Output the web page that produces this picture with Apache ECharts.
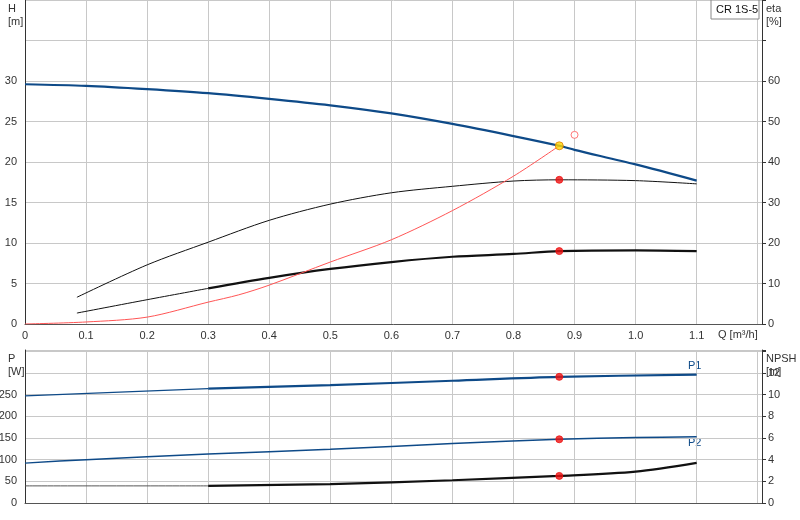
<!DOCTYPE html>
<html><head><meta charset="utf-8">
<script src="https://cdn.jsdelivr.net/npm/echarts@6/dist/echarts.min.js"></script>
<style>html,body{margin:0;padding:0;background:#fff}#c{width:800px;height:520px}</style>
</head><body><div id="c"></div>
<script>
const hQ=[0,0.1,0.2,0.3,0.4,0.5,0.6,0.7,0.8,0.875,0.9,1.0,1.1];
const hV=[29.6,29.4,29.0,28.5,27.8,27.0,26.0,24.7,23.2,22.0,21.5,19.7,17.7];
const etaQ=[0,0.1,0.2,0.3,0.35,0.4,0.5,0.6,0.7,0.8,0.875];
const etaV=[0,0.5,1.7,5.4,7.2,9.6,15.3,20.8,28,36.5,44];
const e1Q=[0.085,0.2,0.3,0.4,0.5,0.6,0.7,0.8,0.875,1.0,1.1];
const e1V=[3.3,7.3,10.1,12.8,14.8,16.2,17.0,17.65,17.8,17.7,17.3];
const e2Q=[0.085,0.2,0.3,0.4,0.5,0.6,0.7,0.8,0.875,1.0,1.1];
const e2V=[1.35,3.0,4.4,5.7,6.8,7.65,8.3,8.65,9.0,9.1,9.0];
const p1Q=[0,0.3,0.5,0.7,0.875,1.1];
const p1V=[247,264,272,282,291,296];
const p2Q=[0,0.1,0.3,0.5,0.7,0.875,1.0,1.1];
const p2V=[92,100,113,124,137,147,151,153];
const nQ=[0,0.3,0.5,0.7,0.875,1.0,1.1];
const nV=[1.58,1.58,1.75,2.1,2.5,2.9,3.7];
const dutyQ=0.875, splitQ=0.3;
const pair=(q,v)=>q.map((x,i)=>[x,v[i]]);
const part=(q,v,lo)=>pair(q,v).filter(p=>lo?p[0]<=splitQ:p[0]>=splitQ);
const blue='#0e4a88', grid='#c8c8c8', font='Liberation Sans, Arial, sans-serif';
const xa=(gi,show)=>({type:'value',gridIndex:gi,min:0,max:1.207,interval:0.1,
  axisLine:{show:true,lineStyle:{color:'#555'}},axisTick:{show:false},
  splitLine:{show:true,lineStyle:{color:grid}},
  axisLabel:{show:show,color:'#333',fontSize:11,fontFamily:font,margin:6,
    formatter:v=>v>1.15?'':(v===0?'0':v.toFixed(1))}});
const ya=(gi,pos,max,intv,lim,split)=>({type:'value',gridIndex:gi,position:pos,min:0,max:max,interval:intv,
  axisLine:{show:true,lineStyle:{color:'#333'}},axisTick:{show:pos==='right',length:4,lineStyle:{color:'#333'}},
  splitLine:{show:split,lineStyle:{color:grid}},
  axisLabel:{color:'#333',fontSize:11,fontFamily:font,margin:pos==='right'?6:8,formatter:v=>v>lim+0.01?'':String(Math.round(v))}});
const ln=(name,data,xi,yi,color,w,z)=>({name,type:'line',xAxisIndex:xi,yAxisIndex:yi,data,smooth:0.3,symbol:'none',
  lineStyle:{color,width:w},z:z||2,silent:true});
const dot=(data,xi,yi,color,border,size,z)=>({type:'scatter',xAxisIndex:xi,yAxisIndex:yi,data,symbolSize:size||7,
  itemStyle:{color,borderColor:border||color,borderWidth:1},z:z||5,silent:true});
const at=(q,v,x)=>v[q.indexOf(x)];
const g={left:25,right:38,containLabel:false,outerBoundsMode:'none'};
const option={animation:false,
 grid:[Object.assign({top:0,bottom:196},g),Object.assign({top:350,bottom:17},g)],
 xAxis:[xa(0,true),xa(1,false)],
 yAxis:[ya(0,'left',40,5,30,true),ya(0,'right',80,10,60,false),ya(1,'left',353,50,250,true),ya(1,'right',14.12,2,12,false)],
 series:[
  ln('eta',pair(etaQ,etaV),0,1,'#ff5555',1,3),
  ln('e1',pair(e1Q,e1V),0,0,'#111',1),
  ln('e2a',part(e2Q,e2V,true),0,0,'#111',1),
  ln('e2b',part(e2Q,e2V,false),0,0,'#111',2.2),
  ln('H',pair(hQ,hV),0,0,blue,2.2,4),
  ln('P1a',part(p1Q,p1V,true),1,2,blue,1.2),
  ln('P1b',part(p1Q,p1V,false),1,2,blue,2.2),
  ln('P2',pair(p2Q,p2V),1,2,blue,1.5),
  ln('Na',part(nQ,nV,true),1,3,'#555',1),
  ln('Nb',part(nQ,nV,false),1,3,'#111',2.2),
  dot([[dutyQ,at(e1Q,e1V,dutyQ)],[dutyQ,at(e2Q,e2V,dutyQ)]],0,0,'#ee1111'),
  dot([[dutyQ,at(hQ,hV,dutyQ)]],0,0,'#ffd700','#e08000',8,6),
  dot([[0.9,46.7]],0,1,'#fff','#ff5555',7),
  dot([[dutyQ,at(p1Q,p1V,dutyQ)],[dutyQ,at(p2Q,p2V,dutyQ)]],1,2,'#ee1111'),
  dot([[dutyQ,at(nQ,nV,dutyQ)]],1,3,'#ee1111')
 ],
 graphic:[
  {type:'text',left:8,top:2,style:{text:'H\n[m]',fill:'#333',font:'11px '+font,lineHeight:13}},
  {type:'text',left:766,top:2,style:{text:'eta\n[%]',fill:'#333',font:'11px '+font,lineHeight:13}},
  {type:'text',left:8,top:352,style:{text:'P\n[W]',fill:'#333',font:'11px '+font,lineHeight:13}},
  {type:'text',left:766,top:352,style:{text:'NPSH\n[m]',fill:'#333',font:'11px '+font,lineHeight:13}},
  {type:'text',left:718,top:329,style:{text:'Q [m³/h]',fill:'#333',font:'11px '+font}},
  {type:'rect',shape:{x:711,y:0,width:48,height:19},style:{fill:'#fff',stroke:'#888',lineWidth:1},z:10},
  {type:'text',left:716,top:4,style:{text:'CR 1S-5',fill:'#111',font:'11px '+font},z:11},
  {type:'text',left:688,top:360,style:{text:'P1',fill:blue,font:'11px '+font}},
  {type:'text',left:688,top:437,style:{text:'P2',fill:blue,font:'11px '+font}}
 ]};
echarts.init(document.getElementById('c')).setOption(option);
</script></body></html>
